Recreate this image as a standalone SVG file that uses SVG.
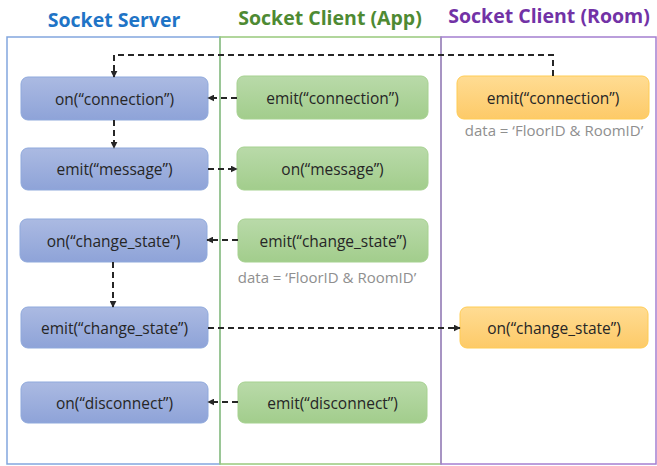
<svg xmlns="http://www.w3.org/2000/svg" width="657" height="466" viewBox="0 0 657 466">
  <style>
    .hdr { font-family: "Open Sans", "Liberation Sans", sans-serif; font-weight: bold; font-size: 19.5px; text-anchor: middle; }
    .lbl { font-family: "Open Sans", "Liberation Sans", sans-serif; font-size: 15.5px; fill: #262626; text-anchor: middle; dominant-baseline: central; }
    .note { font-family: "Open Sans", "Liberation Sans", sans-serif; font-size: 15px; fill: #8f8f8f; text-anchor: middle; dominant-baseline: central; }
    .srv { fill: url(#gBlue); stroke: #8fa9dc; stroke-width: 1; }
    .app { fill: url(#gGreen); stroke: #a6d190; stroke-width: 1; }
    .room { fill: url(#gOrange); stroke: #ffcc55; stroke-width: 1; }
    .conn { fill: none; stroke: #262626; stroke-width: 2; stroke-dasharray: 6 4; marker-end: url(#arr); }
  </style>
  <defs>
    <linearGradient id="gBlue" x1="0" y1="0" x2="0" y2="1">
      <stop offset="0" stop-color="#abbae2"/>
      <stop offset="1" stop-color="#8ea3d8"/>
    </linearGradient>
    <linearGradient id="gGreen" x1="0" y1="0" x2="0" y2="1">
      <stop offset="0" stop-color="#b9daa9"/>
      <stop offset="1" stop-color="#a2cd8c"/>
    </linearGradient>
    <linearGradient id="gOrange" x1="0" y1="0" x2="0" y2="1">
      <stop offset="0" stop-color="#ffdc93"/>
      <stop offset="1" stop-color="#fdca68"/>
    </linearGradient>
    <marker id="arr" viewBox="0 0 10 10" refX="9" refY="5" markerWidth="3.5" markerHeight="3.5" orient="auto">
      <path d="M0,0 L10,5 L0,10 z" fill="#262626"/>
    </marker>
  </defs>

  <!-- column headers -->
  <text class="hdr" x="114" y="27" fill="#1f74c6">Socket Server</text>
  <text class="hdr" x="330" y="25" fill="#4e8a33">Socket Client (App)</text>
  <text class="hdr" x="549" y="23" fill="#7232a6">Socket Client (Room)</text>

  <!-- swimlanes -->
  <g id="lanes" fill="none" stroke-width="1.5">
    <rect x="7" y="37" width="213" height="427" stroke="#82a6de"/>
    <rect x="220" y="37" width="221" height="427" stroke="#98c97c"/>
    <rect x="441" y="37" width="215" height="427" stroke="#a47fd0"/>
  </g>

  <!-- server lane -->
  <g id="srv-on-connection">
    <rect class="srv" x="21" y="77" width="187" height="43" rx="7"/>
    <text class="lbl" x="114.5" y="98.5">on(“connection”)</text>
  </g>
  <g id="srv-emit-message">
    <rect class="srv" x="21" y="148" width="187" height="42" rx="7"/>
    <text class="lbl" x="114.5" y="169">emit(“message”)</text>
  </g>
  <g id="srv-on-change-state">
    <rect class="srv" x="20" y="219" width="187" height="43" rx="7"/>
    <text class="lbl" x="113.5" y="240.5">on(“change_state”)</text>
  </g>
  <g id="srv-emit-change-state">
    <rect class="srv" x="21" y="307" width="187" height="41" rx="7"/>
    <text class="lbl" x="114.5" y="327.5">emit(“change_state”)</text>
  </g>
  <g id="srv-on-disconnect">
    <rect class="srv" x="21" y="382" width="187" height="41" rx="7"/>
    <text class="lbl" x="114.5" y="402.5">on(“disconnect”)</text>
  </g>

  <!-- app lane -->
  <g id="app-emit-connection">
    <rect class="app" x="237" y="76" width="191" height="43" rx="7"/>
    <text class="lbl" x="332.5" y="97.5">emit(“connection”)</text>
  </g>
  <g id="app-on-message">
    <rect class="app" x="237" y="147" width="191" height="43" rx="7"/>
    <text class="lbl" x="332.5" y="168.5">on(“message”)</text>
  </g>
  <g id="app-emit-change-state">
    <rect class="app" x="238" y="219" width="190" height="43" rx="7"/>
    <text class="lbl" x="333" y="240.5">emit(“change_state”)</text>
    <text class="note" x="327" y="277">data = ‘FloorID &amp; RoomID’</text>
  </g>
  <g id="app-emit-disconnect">
    <rect class="app" x="238" y="382" width="189" height="41" rx="7"/>
    <text class="lbl" x="332.5" y="402.5">emit(“disconnect”)</text>
  </g>

  <!-- room lane -->
  <g id="room-emit-connection">
    <rect class="room" x="457" y="76" width="192" height="43" rx="7"/>
    <text class="lbl" x="553" y="97.5">emit(“connection”)</text>
    <text class="note" x="554" y="130">data = ‘FloorID &amp; RoomID’</text>
  </g>
  <g id="room-on-change-state">
    <rect class="room" x="460" y="307" width="188" height="41" rx="7"/>
    <text class="lbl" x="554" y="327.5">on(“change_state”)</text>
  </g>

  <!-- message flow -->
  <g id="connectors">
    <path class="conn" d="M553,76 V55 H114 V77"/>
    <path class="conn" d="M237,98 H208"/>
    <path class="conn" d="M114,120 V148"/>
    <path class="conn" d="M208,169 H237"/>
    <path class="conn" d="M238,240 H207"/>
    <path class="conn" d="M113,262 V307"/>
    <path class="conn" d="M208,328 H460"/>
    <path class="conn" d="M238,402 H208"/>
  </g>
</svg>
